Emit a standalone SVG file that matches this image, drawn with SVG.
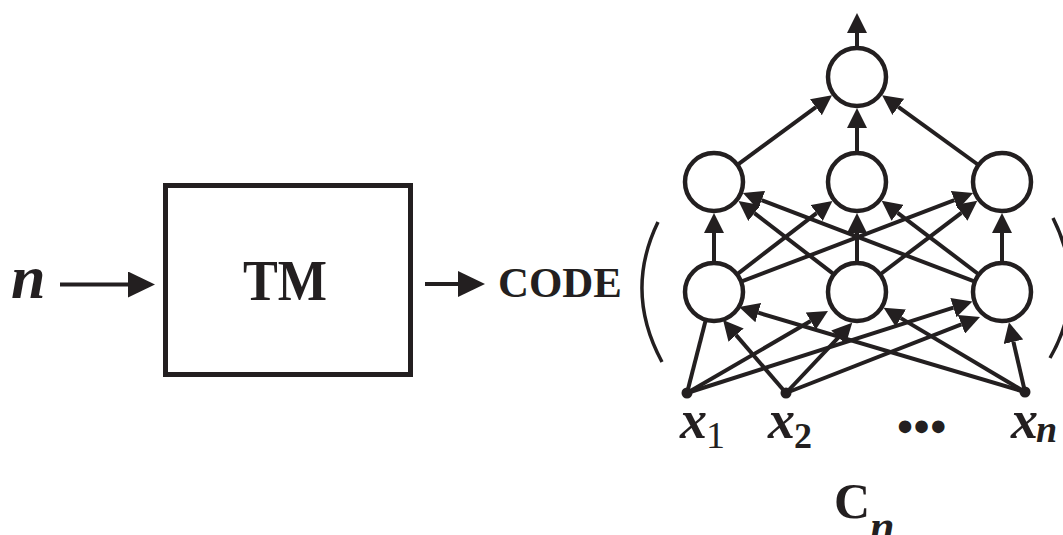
<svg xmlns="http://www.w3.org/2000/svg" width="1063" height="535" viewBox="0 0 1063 535">
  <style>
    .edge { stroke: #231f20; stroke-width: 4; fill: none; }
    .node { fill: #fff; stroke: #231f20; stroke-width: 4.5; }
    .dot { fill: #231f20; }
    .paren { stroke: #231f20; stroke-width: 3.5; fill: none; }
    .t { font-family: "Liberation Serif", "Times New Roman", serif; font-weight: bold; fill: #231f20; }
    .it { font-style: italic; }
  </style>
  <defs>
    <marker id="ah" viewBox="0 0 20 20" markerUnits="userSpaceOnUse" markerWidth="20" markerHeight="20" refX="0" refY="10" orient="auto">
      <path d="M0,0 L20,10 L0,20 z" fill="#231f20"/>
    </marker>
    <marker id="ahBig" viewBox="0 0 27 26" markerUnits="userSpaceOnUse" markerWidth="27" markerHeight="26" refX="0" refY="13" orient="auto">
      <path d="M0,0 L27,13 L0,26 z" fill="#231f20"/>
    </marker>
  </defs>

  <!-- input n into the machine -->
  <text id="label-n" class="t it" x="11" y="298" font-size="62">n</text>

  <g id="tm">
    <rect x="165.5" y="185.5" width="245" height="189" fill="#fff" stroke="#231f20" stroke-width="5"/>
    <text class="t" x="285" y="300" font-size="58" text-anchor="middle" textLength="84" lengthAdjust="spacingAndGlyphs">TM</text>
  </g>

  <text id="label-code" class="t" x="498" y="297" font-size="42" textLength="124" lengthAdjust="spacingAndGlyphs">CODE</text>

  <!-- brackets around the circuit -->
  <path class="paren" d="M658,222 Q624,292 662,362"/>
  <path class="paren" d="M1053,218 Q1089,290 1050,358"/>

  <g id="connectors">
    <line class="edge" x1="60" y1="284.5" x2="128" y2="284.5" marker-end="url(#ahBig)"/>
    <line class="edge" x1="425" y1="284" x2="458" y2="284" marker-end="url(#ahBig)"/>

    <!-- output -->
    <line class="edge" x1="857" y1="48" x2="857" y2="33" marker-end="url(#ah)"/>

    <!-- hidden layer 2 to output node -->
    <line class="edge" x1="737.4" y1="164.8" x2="815.9" y2="107.2" marker-end="url(#ah)"/>
    <line class="edge" x1="857" y1="153" x2="857" y2="128" marker-end="url(#ah)"/>
    <line class="edge" x1="978.5" y1="165" x2="898.3" y2="106.9" marker-end="url(#ah)"/>

    <!-- hidden layer 1 to hidden layer 2 -->
    <line class="edge" x1="714" y1="263" x2="714" y2="233" marker-end="url(#ah)"/>
    <line class="edge" x1="737" y1="274.3" x2="816.6" y2="213.1" marker-end="url(#ah)"/>
    <line class="edge" x1="741.1" y1="281.7" x2="954.4" y2="200.2" marker-end="url(#ah)"/>
    <line class="edge" x1="834" y1="274.3" x2="754.4" y2="213.1" marker-end="url(#ah)"/>
    <line class="edge" x1="857" y1="263" x2="857" y2="233" marker-end="url(#ah)"/>
    <line class="edge" x1="880.1" y1="274.5" x2="961.4" y2="212.8" marker-end="url(#ah)"/>
    <line class="edge" x1="974.9" y1="281.7" x2="761.6" y2="200.2" marker-end="url(#ah)"/>
    <line class="edge" x1="978.9" y1="274.5" x2="897.6" y2="212.8" marker-end="url(#ah)"/>
    <line class="edge" x1="1002" y1="263" x2="1002" y2="233" marker-end="url(#ah)"/>

    <!-- inputs to hidden layer 1 -->
    <line class="edge" x1="687" y1="393" x2="706" y2="319"/>
    <line class="edge" x1="687" y1="393" x2="810.7" y2="321.1" marker-end="url(#ah)"/>
    <line class="edge" x1="687" y1="393" x2="953.4" y2="307.6" marker-end="url(#ah)"/>
    <line class="edge" x1="786" y1="393" x2="736.1" y2="335.1" marker-end="url(#ah)"/>
    <line class="edge" x1="786" y1="393" x2="838.5" y2="337.4" marker-end="url(#ah)"/>
    <line class="edge" x1="786" y1="393" x2="961.4" y2="324.3" marker-end="url(#ah)"/>
    <line class="edge" x1="1025" y1="392" x2="758.2" y2="312.7" marker-end="url(#ah)"/>
    <line class="edge" x1="1025" y1="392" x2="900.8" y2="318.1" marker-end="url(#ah)"/>
    <line class="edge" x1="1025" y1="392" x2="1013.4" y2="341.7" marker-end="url(#ah)"/>
  </g>

  <g id="out"><circle class="node" cx="857" cy="77" r="29"/></g>
  <g id="h2-1"><circle class="node" cx="714" cy="182" r="29"/></g>
  <g id="h2-2"><circle class="node" cx="857" cy="182" r="29"/></g>
  <g id="h2-3"><circle class="node" cx="1002" cy="182" r="29"/></g>
  <g id="h1-1"><circle class="node" cx="714" cy="292" r="29"/></g>
  <g id="h1-2"><circle class="node" cx="857" cy="292" r="29"/></g>
  <g id="h1-3"><circle class="node" cx="1002" cy="292" r="29"/></g>

  <g id="in-1">
    <circle class="dot" cx="687" cy="393" r="5.5"/>
    <text class="t" x="680" y="438" font-size="54"><tspan class="it">x</tspan><tspan font-size="38" font-weight="normal" dx="-1" dy="10">1</tspan></text>
  </g>
  <g id="in-2">
    <circle class="dot" cx="786" cy="393" r="5.5"/>
    <text class="t" x="768" y="438" font-size="54"><tspan class="it">x</tspan><tspan font-size="36" dx="-1" dy="10">2</tspan></text>
  </g>
  <text id="ellipsis" class="t" x="897" y="442" font-size="46" letter-spacing="0.5">•••</text>
  <g id="in-n">
    <circle class="dot" cx="1025" cy="392" r="5.5"/>
    <text class="t it" x="1011" y="438" font-size="54">x<tspan font-size="38" dx="-2" dy="4">n</tspan></text>
  </g>

  <text id="label-cn" class="t" x="834" y="518" font-size="50">C<tspan class="it" font-size="44" dy="23">n</tspan></text>
</svg>
